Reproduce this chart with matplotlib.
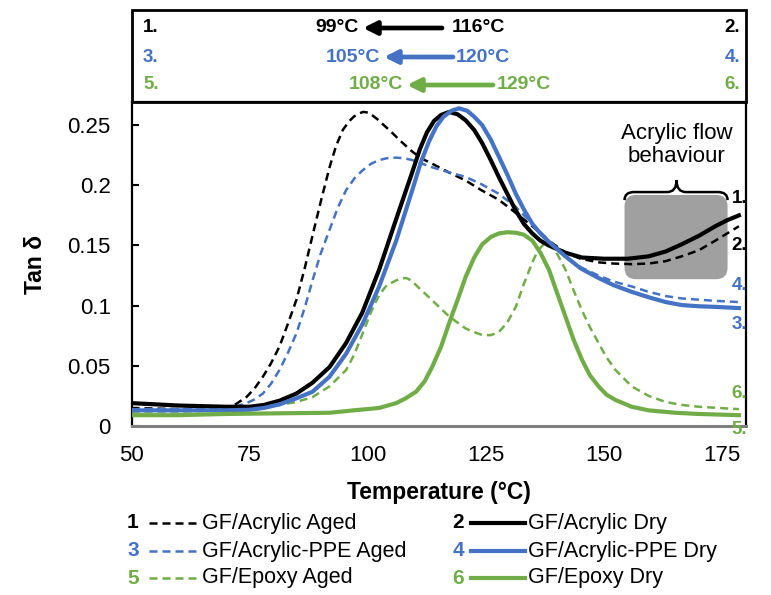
import numpy as np
import matplotlib
matplotlib.use('Agg')
import matplotlib.pyplot as plt
from matplotlib.lines import Line2D
from matplotlib.patches import FancyBboxPatch, Rectangle, PathPatch, FancyArrowPatch
from matplotlib.path import Path

plt.rcParams['font.family'] = ['Liberation Sans', 'DejaVu Sans']

acr_aged_T = [50, 60, 70, 72, 74.3, 76, 77.8, 79.5, 81.3, 83, 84.9, 86.7, 88.4, 90.2, 91.9, 93.3,
              94.7, 96, 97, 98, 99, 100, 101, 102, 103.1, 104.8, 106.6, 109.4, 111.5, 113.6, 117,
              120.7, 124, 127.7, 131, 134.8, 138.3, 141.8, 145, 148.8, 152, 155.8, 159.4, 163,
              166.4, 170, 173.5, 178.5]
acr_aged = [0.015, 0.014, 0.015, 0.018, 0.024, 0.031, 0.041, 0.052, 0.066, 0.084, 0.105, 0.132,
            0.160, 0.189, 0.215, 0.233, 0.246, 0.253, 0.257, 0.2595, 0.261, 0.2605, 0.258, 0.255,
            0.251, 0.245, 0.238, 0.228, 0.222, 0.218, 0.211, 0.204, 0.196, 0.188, 0.178, 0.166,
            0.154, 0.144, 0.139, 0.136, 0.135, 0.1345, 0.135, 0.137, 0.141, 0.146, 0.154, 0.166]

acr_dry_T = [50, 60, 70, 75, 78, 81.3, 84.9, 88.3, 91.9, 95.4, 98.8, 102.4, 106, 108, 109.4, 111,
             112.5, 114, 115.5, 117.2, 119, 120.7, 122.5, 124.2, 126, 127.7, 129.5, 131.3, 133,
             134.8, 136.5, 138.3, 141.8, 145.3, 150, 155, 159.4, 163, 166.4, 170, 173.5, 176, 178.5]
acr_dry = [0.019, 0.017, 0.016, 0.016, 0.0175, 0.021, 0.027, 0.036, 0.049, 0.069, 0.094, 0.130,
           0.172, 0.195, 0.211, 0.230, 0.244, 0.2535, 0.2585, 0.261, 0.259, 0.254, 0.246, 0.235,
           0.221, 0.207, 0.193, 0.179, 0.168, 0.160, 0.154, 0.150, 0.144, 0.140, 0.139, 0.139,
           0.141, 0.145, 0.151, 0.158, 0.166, 0.171, 0.175]

ppe_aged_T = [50, 60, 70, 72, 74.3, 76, 77.8, 79.5, 81.3, 83, 84.9, 86.7, 88.3, 90, 91.9, 93.6,
              95.4, 97.2, 98.9, 100.7, 102.4, 104, 106, 107.7, 109.4, 111.5, 113.6, 117, 120.7,
              124, 127.7, 131.3, 134.8, 138.3, 141.8, 145, 148.8, 152, 155.8, 159.4, 163, 166.4,
              170, 173.5, 178.5]
ppe_aged = [0.014, 0.014, 0.014, 0.016, 0.019, 0.022, 0.027, 0.035, 0.0465, 0.060, 0.077, 0.099,
            0.121, 0.143, 0.163, 0.181, 0.196, 0.206, 0.2125, 0.218, 0.221, 0.2225, 0.223, 0.2225,
            0.221, 0.218, 0.215, 0.211, 0.207, 0.201, 0.193, 0.182, 0.168, 0.154, 0.141, 0.132,
            0.125, 0.120, 0.116, 0.1115, 0.108, 0.106, 0.105, 0.104, 0.103]

ppe_dry_T = [50, 60, 70, 75, 78, 81.3, 84.9, 88.3, 91.9, 95.4, 98.9, 102.4, 106, 109.4, 111.2,
             113, 114.5, 116, 117.7, 119.3, 121, 122.5, 124.2, 126, 127.7, 129.5, 131.3, 133,
             134.8, 136.5, 138.3, 141.8, 145, 148.8, 152, 155.8, 159.4, 163, 166.4, 170, 173.5,
             178.5]
ppe_dry = [0.013, 0.013, 0.013, 0.0135, 0.015, 0.018, 0.023, 0.0285, 0.041, 0.060, 0.085, 0.116,
           0.154, 0.196, 0.219, 0.237, 0.249, 0.257, 0.262, 0.264, 0.262, 0.257, 0.250, 0.238,
           0.224, 0.209, 0.193, 0.180, 0.168, 0.160, 0.153, 0.141, 0.131, 0.123, 0.117, 0.1115,
           0.107, 0.103, 0.1005, 0.0995, 0.099, 0.098]

epx_aged_T = [50, 60, 70, 77.8, 84.9, 88.3, 91.9, 95.4, 97.2, 98.9, 100.7, 102.4, 104, 106, 107,
              108.1, 109.2, 110.2, 113.6, 117.2, 120.7, 122.5, 124.2, 126, 127.7, 129.5, 131.3,
              133, 134.8, 136, 137.2, 138.3, 139.5, 140.6, 141.8, 143.5, 145.3, 147, 148.8, 150.5,
              152.4, 155.8, 159.4, 163, 166.4, 170, 178.5]
epx_aged = [0.012, 0.012, 0.013, 0.015, 0.020, 0.024, 0.033, 0.0465, 0.060, 0.077, 0.095, 0.109,
            0.117, 0.121, 0.1225, 0.123, 0.121, 0.117, 0.1045, 0.091, 0.081, 0.078, 0.0756, 0.0755,
            0.078, 0.086, 0.099, 0.118, 0.136, 0.146, 0.151, 0.152, 0.147, 0.139, 0.130, 0.113,
            0.096, 0.082, 0.069, 0.057, 0.0465, 0.033, 0.025, 0.020, 0.0175, 0.016, 0.014]

epx_dry_T = [50, 60, 70, 80, 91.9, 97, 102.4, 106, 108, 110.2, 112, 113.6, 115.5, 117.2, 119,
             120.7, 122.5, 124.2, 126, 127.7, 129.5, 131.3, 133, 134.8, 136.5, 138.3, 140, 141.8,
             143.5, 145.3, 147, 148.8, 150.5, 152.4, 155.8, 159.4, 165, 170, 178.5]
epx_dry = [0.009, 0.009, 0.010, 0.0105, 0.011, 0.013, 0.015, 0.019, 0.023, 0.0285, 0.037, 0.049,
           0.066, 0.0855, 0.105, 0.124, 0.140, 0.151, 0.157, 0.160, 0.161, 0.1606, 0.159, 0.154,
           0.144, 0.130, 0.111, 0.091, 0.072, 0.055, 0.042, 0.033, 0.026, 0.0216, 0.016, 0.013,
           0.011, 0.010, 0.009]

x_ticks = [50, 75, 100, 125, 150, 175]
y_ticks = [0, 0.05, 0.1, 0.15, 0.2, 0.25]
y_tick_labels = ['0', '0.05', '0.1', '0.15', '0.2', '0.25']

black = '#000000'
blue = '#4472C4'
green = '#70AD47'

W, H = 771, 595
fig = plt.figure(figsize=(W / 100, H / 100), dpi=100)


def px(x, y):
    # pixel position -> figure fraction
    return x / W, 1 - y / H


ax_l, ax_r, ax_t, ax_b = 131.5, 746, 102.3, 426
ax = fig.add_axes([ax_l / W, 1 - ax_b / H, (ax_r - ax_l) / W, (ax_b - ax_t) / H])

dash = (0, (3.2, 2.0))
ax.plot(acr_aged_T, acr_aged, color=black, lw=1.8, ls=dash, zorder=3)
ax.plot(ppe_aged_T, ppe_aged, color=blue, lw=1.8, ls=dash, zorder=3)
ax.plot(epx_aged_T, epx_aged, color=green, lw=1.8, ls=dash, zorder=3)
ax.plot(acr_dry_T, acr_dry, color=black, lw=3.0, zorder=4)
ax.plot(ppe_dry_T, ppe_dry, color=blue, lw=3.0, zorder=4)
ax.plot(epx_dry_T, epx_dry, color=green, lw=3.0, zorder=4)

ax.set_xlim(50, 180)
ax.set_ylim(0, 0.269)
ax.set_xticks(x_ticks)
ax.set_yticks(y_ticks)
ax.set_yticklabels(y_tick_labels)
ax.tick_params(axis='y', direction='in', length=5, width=1.5, labelsize=16, pad=15)
ax.tick_params(axis='x', length=0, labelsize=16, pad=14)
for s in ['left', 'top', 'right']:
    ax.spines[s].set_linewidth(1.6)
ax.spines['bottom'].set_color('#7f7f7f')
ax.spines['bottom'].set_linewidth(2.2)

ax.set_xlabel('Temperature (°C)', fontsize=16.5, fontweight='bold')
ax.set_ylabel('Tan δ', fontsize=16.5, fontweight='bold')
ax.xaxis.set_label_coords(0.5, -0.17)
ax.yaxis.set_label_coords(-0.138, 0.5)

# acrylic flow region
xr_per_px = 130 / (ax_r - ax_l)
yr_per_px = 0.269 / (ax_b - ax_t)
box = FancyBboxPatch((154.3, 0.122), 21.8, 0.070,
                     boxstyle='round,pad=0,rounding_size=2.4',
                     mutation_aspect=yr_per_px / xr_per_px,
                     fc='#a0a0a0', ec='none', zorder=2)
ax.add_patch(box)
yb, yt, yh = 0.1877, 0.1944, 0.2043
verts = [(154.3, yb), (154.3, yt), (156.3, yt), (163.3, yt), (165.3, yt), (165.3, yh),
         (165.3, yt), (167.3, yt), (174.1, yt), (176.1, yt), (176.1, yb)]
codes = [Path.MOVETO, Path.CURVE3, Path.CURVE3, Path.LINETO, Path.CURVE3, Path.CURVE3,
         Path.CURVE3, Path.CURVE3, Path.LINETO, Path.CURVE3, Path.CURVE3]
ax.add_patch(PathPatch(Path(verts, codes), fc='none', ec='black', lw=1.8, zorder=5))
ax.text(165.3, 0.2335, 'Acrylic flow\nbehaviour', ha='center', va='center', fontsize=16,
        linespacing=1.15)

# curve end labels
end_labels = [('1.', 0.189, black), ('2.', 0.150, black), ('4.', 0.117, blue),
              ('3.', 0.084, blue), ('6.', 0.027, green), ('5.', -0.003, green)]
for lab, yv, c in end_labels:
    ax.text(180.3, yv, lab, ha='right', va='center', color=c, fontsize=13.5,
            fontweight='bold', clip_on=False, zorder=6)

# header box with peak shifts
hx0, hy0, hx1, hy1 = ax_l, 10, ax_r, ax_t
fig.add_artist(Rectangle(px(hx0, hy1), (hx1 - hx0) / W, (hy1 - hy0) / H,
                         transform=fig.transFigure, fc='none', ec='black', lw=2))
rows = [(28, black, '1.', '2.', '99°C', '116°C', 359, 363, 442, 452),
        (57, blue, '3.', '4.', '105°C', '120°C', 380, 384, 453, 456),
        (85, green, '5.', '6.', '108°C', '129°C', 403, 407, 493, 497)]
for y, c, l_lab, r_lab, t_aged, t_dry, xa, xh, xt, xd in rows:
    fig.text(*px(143, y), l_lab, color=c, fontsize=13.5, fontweight='bold', ha='left', va='center')
    fig.text(*px(740, y), r_lab, color=c, fontsize=13.5, fontweight='bold', ha='right', va='center')
    fig.text(*px(xa, y), t_aged, color=c, fontsize=14, fontweight='bold', ha='right', va='center')
    fig.text(*px(xd, y), t_dry, color=c, fontsize=14, fontweight='bold', ha='left', va='center')
    fig.add_artist(FancyArrowPatch(px(xt, y), px(xh, y), transform=fig.transFigure,
                                   arrowstyle='-|>', mutation_scale=20, lw=3.4, color=c,
                                   shrinkA=0, shrinkB=0))

# legend
legend_rows = [('1', 'GF/Acrylic Aged', black, dash, 1.8, 0, 523),
               ('3', 'GF/Acrylic-PPE Aged', blue, dash, 1.8, 0, 551),
               ('5', 'GF/Epoxy Aged', green, dash, 1.8, 0, 578),
               ('2', 'GF/Acrylic Dry', black, '-', 3.0, 1, 523),
               ('4', 'GF/Acrylic-PPE Dry', blue, '-', 3.0, 1, 551),
               ('6', 'GF/Epoxy Dry', green, '-', 3.0, 1, 578)]
cols = [(133, 149, 199, 202), (458, 471, 525, 528)]
for num, lab, c, ls, lw, col, y in legend_rows:
    xn, xl0, xl1, xtxt = cols[col]
    fig.text(*px(xn, y), num, color=c, fontsize=15, fontweight='bold', ha='center', va='center')
    x0, yy = px(xl0, y)
    x1, _ = px(xl1, y)
    fig.add_artist(Line2D([x0, x1], [yy, yy], transform=fig.transFigure, color=c, ls=ls, lw=lw))
    fig.text(*px(xtxt, y), lab, color='black', fontsize=15.5, ha='left', va='center')

fig.savefig('out.png', dpi=100)
